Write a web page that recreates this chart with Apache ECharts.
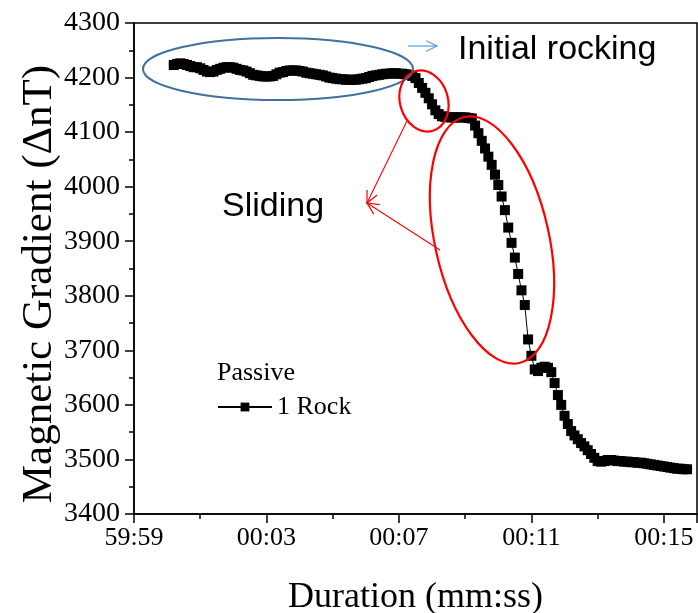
<!DOCTYPE html>
<html>
<head>
<meta charset="utf-8">
<script src="https://cdn.jsdelivr.net/npm/echarts@6/dist/echarts.min.js"></script>
<style>
  html, body { margin: 0; padding: 0; background: #fff; }
  #chart { width: 698px; height: 613px; }
</style>
</head>
<body>
<div id="chart"></div>
<script>
// time is counted in seconds from 59:59 (so 0 -> 59:59, 4 -> 00:03 ...)
var startSec = 1.2;
var stepSec = 0.1;
var xTicks = ['59:59', '00:03', '00:07', '00:11', '00:15'];

var rockValues = [
  4223, 4225, 4226, 4225, 4223, 4221, 4219, 4219, 4217, 4214,
  4211, 4210, 4211, 4214, 4216, 4218, 4219, 4219, 4218, 4216,
  4214, 4213, 4211, 4208, 4205, 4204, 4203, 4202, 4202, 4202,
  4203, 4206, 4209, 4210, 4212, 4213, 4213, 4213, 4212, 4211,
  4209, 4208, 4207, 4206, 4205, 4204, 4202, 4200, 4199, 4198,
  4197, 4197, 4196, 4196, 4196, 4196, 4197, 4198, 4199, 4201,
  4203, 4204, 4205, 4206, 4207, 4207, 4208, 4208, 4207, 4207,
  4206, 4205, 4203, 4199, 4190, 4181, 4172, 4162, 4151, 4140,
  4133, 4129, 4128, 4127, 4127, 4127, 4127, 4127, 4127, 4126,
  4125, 4112, 4098, 4084, 4070, 4055, 4040, 4022, 4003, 3982,
  3957, 3925, 3897, 3870, 3840, 3810, 3783, 3720, 3690, 3665,
  3662, 3668, 3670, 3668, 3660, 3640, 3618, 3600, 3580, 3565,
  3552, 3544, 3537, 3530, 3524, 3517, 3510, 3503, 3497, 3496,
  3497, 3499, 3499, 3498, 3497, 3497, 3496, 3496, 3495, 3495,
  3494, 3494, 3493, 3492, 3491, 3490, 3489, 3488, 3487, 3486,
  3485, 3484, 3483, 3483, 3482, 3482
];

var seriesData = rockValues.map(function (v, i) {
  return [+(startSec + i * stepSec).toFixed(2), v];
});

var serif = '"Liberation Serif", "Times New Roman", serif';
var sans = '"Liberation Sans", Arial, sans-serif';

function arrowHead(x1, y1, x2, y2, len, color) {
  var a = Math.atan2(y2 - y1, x2 - x1);
  var s = 0.45;
  return {
    type: 'polyline',
    shape: { points: [
      [x2 - len * Math.cos(a - s), y2 - len * Math.sin(a - s)],
      [x2, y2],
      [x2 - len * Math.cos(a + s), y2 - len * Math.sin(a + s)]
    ] },
    style: { stroke: color, lineWidth: 1.2, fill: null },
    z: 100
  };
}

var chart = echarts.init(document.getElementById('chart'));

var option = {
  animation: false,
  backgroundColor: '#fff',
  grid: {
    left: 134, right: 1, top: 23, bottom: 99,
    outerBoundsMode: 'none',
    show: true, borderColor: '#000', borderWidth: 1.5
  },
  xAxis: {
    type: 'value',
    min: 0, max: 17, interval: 4,
    name: 'Duration (mm:ss)',
    nameLocation: 'middle',
    nameGap: 66,
    nameTextStyle: { fontFamily: serif, fontSize: 36, color: '#000' },
    axisLine: { lineStyle: { color: '#000', width: 1.5 } },
    axisTick: { show: true, inside: false, length: 9, lineStyle: { color: '#000', width: 1.5 } },
    minorTick: { show: true, splitNumber: 2, length: 5, lineStyle: { color: '#000', width: 1.5 } },
    splitLine: { show: false },
    axisLabel: {
      fontFamily: serif, fontSize: 26, color: '#000', margin: 11,
      formatter: function (v) { return xTicks[Math.round(v / 4)] || ''; }
    }
  },
  yAxis: {
    type: 'value',
    min: 3400, max: 4300, interval: 100,
    axisLine: { show: true, lineStyle: { color: '#000', width: 1.5 } },
    axisTick: { show: true, inside: false, length: 9, lineStyle: { color: '#000', width: 1.5 } },
    minorTick: { show: true, splitNumber: 2, length: 5, lineStyle: { color: '#000', width: 1.5 } },
    splitLine: { show: false },
    axisLabel: {
      fontFamily: serif, fontSize: 28, color: '#000', margin: 14,
      formatter: function (v) { return String(v); }
    }
  },
  legend: {
    left: 212, top: 389,
    itemWidth: 54, itemHeight: 11, itemGap: 6,
    textStyle: { fontFamily: serif, fontSize: 26, color: '#000' },
    data: ['1 Rock']
  },
  series: [{
    name: '1 Rock',
    type: 'line',
    data: seriesData,
    symbol: 'rect',
    symbolSize: 10,
    showSymbol: true,
    itemStyle: { color: '#000' },
    lineStyle: { color: '#000', width: 1 }
  }],
  graphic: [
    {
      type: 'text', x: 40, y: 284, rotation: Math.PI / 2,
      style: {
        text: 'Magnetic Gradient (\u0394nT)', font: '43px ' + serif, fill: '#000',
        align: 'center', verticalAlign: 'middle'
      }
    },
    {
      type: 'text', left: 217, top: 360,
      style: { text: 'Passive', font: '26px ' + serif, fill: '#000' }
    },
    {
      type: 'text', left: 458, top: 33,
      style: { text: 'Initial rocking', font: '34px ' + sans, fill: '#000' }
    },
    {
      type: 'text', left: 222, top: 190,
      style: { text: 'Sliding', font: '34px ' + sans, fill: '#000' }
    },
    {
      type: 'ellipse', x: 278, y: 69,
      shape: { cx: 0, cy: 0, rx: 135, ry: 31 },
      style: { stroke: '#41719C', lineWidth: 2, fill: null }, z: 100
    },
    {
      type: 'line', shape: { x1: 408, y1: 46, x2: 437, y2: 46 },
      style: { stroke: '#5B9BD5', lineWidth: 1.2 }, z: 100
    },
    arrowHead(408, 46, 437, 46, 12, '#5B9BD5'),
    {
      type: 'ellipse', x: 424, y: 101, rotation: 0.29,
      shape: { cx: 0, cy: 0, rx: 24, ry: 31 },
      style: { stroke: '#FF0000', lineWidth: 2.2, fill: null }, z: 100
    },
    {
      type: 'ellipse', x: 492, y: 240, rotation: 0.22,
      shape: { cx: 0, cy: 0, rx: 57, ry: 126 },
      style: { stroke: '#FF0000', lineWidth: 2.2, fill: null }, z: 100
    },
    {
      type: 'line', shape: { x1: 407, y1: 121, x2: 367, y2: 203 },
      style: { stroke: '#FF0000', lineWidth: 1.1 }, z: 100
    },
    {
      type: 'line', shape: { x1: 440, y1: 250, x2: 367, y2: 203 },
      style: { stroke: '#FF0000', lineWidth: 1.1 }, z: 100
    },
    arrowHead(407, 121, 367, 203, 13, '#FF0000'),
    arrowHead(440, 250, 367, 203, 13, '#FF0000')
  ]
};

chart.setOption(option);
</script>
</body>
</html>
